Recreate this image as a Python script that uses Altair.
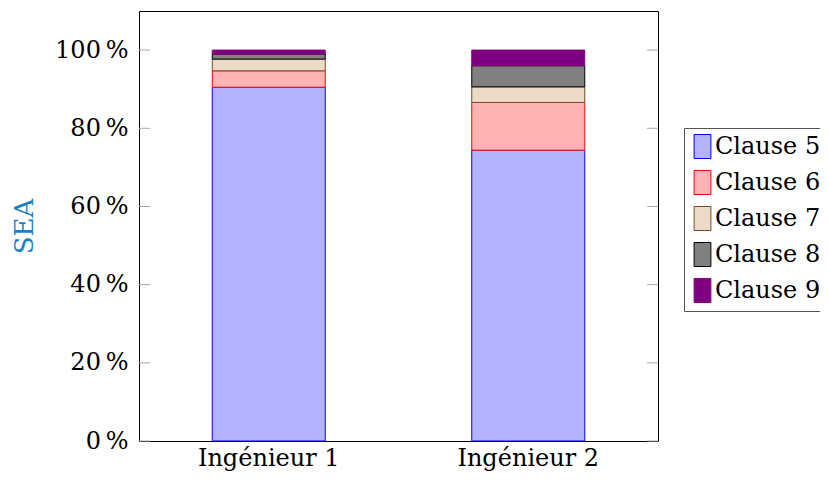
import altair as alt
import pandas as pd

engineers = ["Ingénieur 1", "Ingénieur 2"]
clauses = ["Clause 5", "Clause 6", "Clause 7", "Clause 8", "Clause 9"]
ing1_values = [90.5, 4.2, 3.0, 1.3, 1.0]
ing2_values = [74.4, 12.2, 4.0, 5.4, 4.0]
fill_colors = ["#B3B3FF", "#FFB3B3", "#ECD9C6", "#808080", "#800080"]
stroke_colors = ["#0000FF", "#FF0000", "#734D26", "#000000", "#800080"]
y_ticks = [0, 20, 40, 60, 80, 100]

rows = []
for eng, vals in zip(engineers, [ing1_values, ing2_values]):
    for i, (c, v) in enumerate(zip(clauses, vals)):
        rows.append({"eng": eng, "clause": c, "value": v, "order": i})
df = pd.DataFrame(rows)
ticks_df = pd.DataFrame({"t": y_ticks})

FONT = "DejaVu Serif"
W, H = 519, 430

yscale = alt.Scale(domain=[0, 110], nice=False)

legend_kw = dict(title=None, orient="none", legendX=545, legendY=117,
                 labelFont=FONT, labelFontSize=24, labelColor="black",
                 symbolType="M-0.7,-1h1.4v2h-1.4z", symbolSize=576,
                 symbolStrokeWidth=1, symbolOpacity=1,
                 labelOffset=0, rowPadding=7, padding=6,
                 strokeColor="#555555", fillColor="white")

bars = alt.Chart(df).mark_bar(size=113, strokeWidth=1).encode(
    x=alt.X("eng:N", sort=engineers, title=None,
            scale=alt.Scale(paddingInner=0, paddingOuter=0),
            axis=alt.Axis(labelAngle=0, ticks=False, domain=False,
                          labelFont=FONT, labelFontSize=24, labelColor="black",
                          labelPadding=5)),
    y=alt.Y("value:Q", stack="zero", scale=yscale,
            axis=alt.Axis(values=y_ticks, labelExpr="datum.value + '\u2009%'",
                          ticks=False, domain=False, grid=False,
                          labelFont=FONT, labelFontSize=24, labelColor="black",
                          labelPadding=11,
                          title="SEA", titleFont=FONT, titleFontSize=26,
                          titleFontWeight="normal", titleColor="#1A7FC9",
                          titleX=-107, titleY=215, titleAngle=-90,
                          titleAlign="center", titleBaseline="alphabetic")),
    fill=alt.Fill("clause:N", sort=clauses,
                  scale=alt.Scale(domain=clauses, range=fill_colors),
                  legend=alt.Legend(**legend_kw)),
    stroke=alt.Stroke("clause:N", sort=clauses,
                      scale=alt.Scale(domain=clauses, range=stroke_colors),
                      legend=alt.Legend(**legend_kw)),
    order=alt.Order("order:Q", sort="ascending"),
)

left_ticks = alt.Chart(ticks_df).mark_rule(color="#AAAAAA", strokeWidth=1).encode(
    y=alt.Y("t:Q", scale=yscale),
    x=alt.value(0), x2=alt.value(11),
)
right_ticks = alt.Chart(ticks_df).mark_rule(color="#AAAAAA", strokeWidth=1).encode(
    y=alt.Y("t:Q", scale=yscale),
    x=alt.value(W - 11), x2=alt.value(W),
)

chart = alt.layer(bars, left_ticks, right_ticks).properties(
    width=W, height=H,
    background="white",
    autosize=alt.AutoSizeParams(type="none"),
    padding={"left": 131, "top": 3, "right": 162, "bottom": 32},
).configure_view(stroke="black", strokeWidth=1)

chart.save("out.html", embed_options={"renderer": "svg", "actions": False})
